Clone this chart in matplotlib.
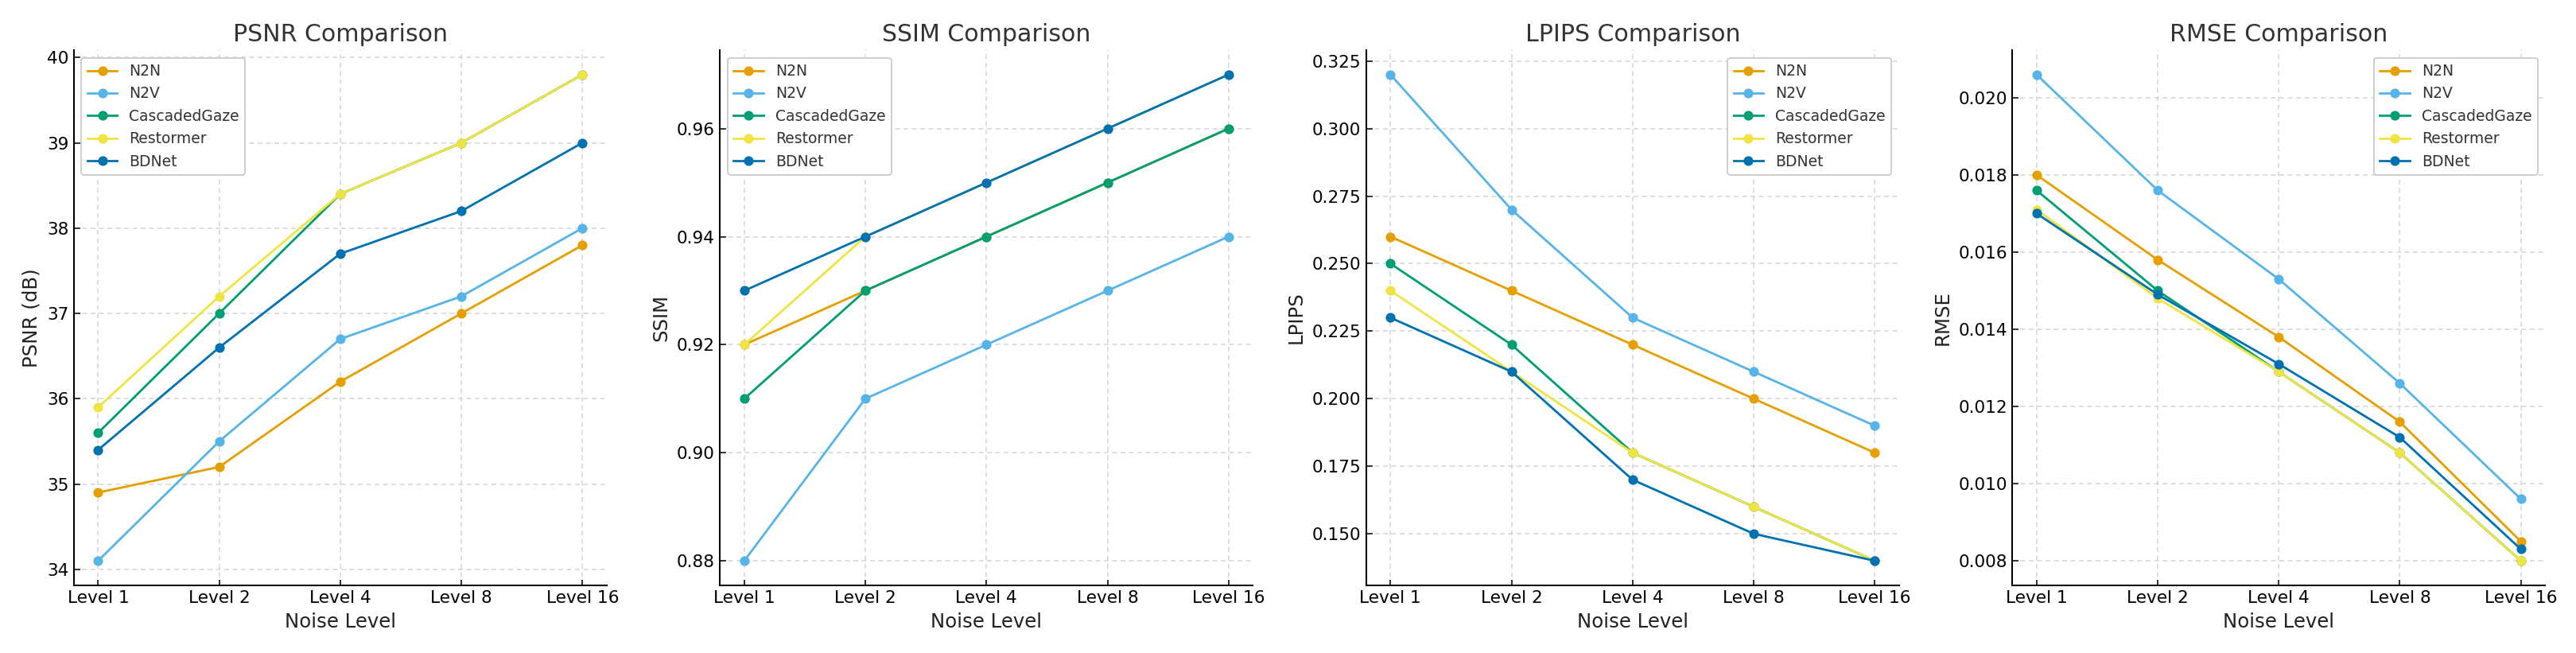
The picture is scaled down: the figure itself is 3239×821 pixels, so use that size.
import numpy as np
import matplotlib
matplotlib.use('Agg')
import matplotlib.pyplot as plt

levels = ['Level 1', 'Level 2', 'Level 4', 'Level 8', 'Level 16']
methods = ['N2N', 'N2V', 'CascadedGaze', 'Restormer', 'BDNet']
colors = ['#E69F00', '#56B4E9', '#009E73', '#F0E442', '#0072B2']

psnr_n2n = [34.9, 35.2, 36.2, 37.0, 37.8]
psnr_n2v = [34.1, 35.5, 36.7, 37.2, 38.0]
psnr_cg = [35.6, 37.0, 38.4, 39.0, 39.8]
psnr_rest = [35.9, 37.2, 38.4, 39.0, 39.8]
psnr_bdnet = [35.4, 36.6, 37.7, 38.2, 39.0]

ssim_n2n = [0.92, 0.93, 0.94, 0.95, 0.96]
ssim_n2v = [0.88, 0.91, 0.92, 0.93, 0.94]
ssim_cg = [0.91, 0.93, 0.94, 0.95, 0.96]
ssim_rest = [0.92, 0.94, 0.95, 0.96, 0.97]
ssim_bdnet = [0.93, 0.94, 0.95, 0.96, 0.97]

lpips_n2n = [0.26, 0.24, 0.22, 0.20, 0.18]
lpips_n2v = [0.32, 0.27, 0.23, 0.21, 0.19]
lpips_cg = [0.25, 0.22, 0.18, 0.16, 0.14]
lpips_rest = [0.24, 0.21, 0.18, 0.16, 0.14]
lpips_bdnet = [0.23, 0.21, 0.17, 0.15, 0.14]

rmse_n2n = [0.0180, 0.0158, 0.0138, 0.0116, 0.0085]
rmse_n2v = [0.0206, 0.0176, 0.0153, 0.0126, 0.0096]
rmse_cg = [0.0176, 0.0150, 0.0129, 0.0108, 0.0080]
rmse_rest = [0.0171, 0.0148, 0.0129, 0.0108, 0.0080]
rmse_bdnet = [0.0170, 0.0149, 0.0131, 0.0112, 0.0083]

panels = [
    ('PSNR Comparison', 'PSNR (dB)', [psnr_n2n, psnr_n2v, psnr_cg, psnr_rest, psnr_bdnet], 'upper left'),
    ('SSIM Comparison', 'SSIM', [ssim_n2n, ssim_n2v, ssim_cg, ssim_rest, ssim_bdnet], 'upper left'),
    ('LPIPS Comparison', 'LPIPS', [lpips_n2n, lpips_n2v, lpips_cg, lpips_rest, lpips_bdnet], 'upper right'),
    ('RMSE Comparison', 'RMSE', [rmse_n2n, rmse_n2v, rmse_cg, rmse_rest, rmse_bdnet], 'upper right'),
]

dpi = 135
fig, axes = plt.subplots(1, 4, figsize=(3239/dpi, 821/dpi), dpi=dpi)
plt.subplots_adjust(left=0.0287, right=0.988, top=0.923, bottom=0.104, wspace=0.213)

x = np.arange(len(levels))
for ax, (title, ylabel, series, loc) in zip(axes, panels):
    for name, vals, c in zip(methods, series, colors):
        ax.plot(x, vals, '-o', color=c, label=name, linewidth=1.5, markersize=5.5)
    ax.set_xticks(x)
    ax.set_xticklabels(levels)
    ax.set_title(title, fontsize=16, color='#333333')
    ax.set_xlabel('Noise Level', fontsize=13, color='#222222')
    ax.set_ylabel(ylabel, fontsize=13, color='#222222')
    ax.tick_params(direction='in', labelsize=11.5, length=4)
    ax.grid(True, linestyle=(0, (4, 3)), color='#d4d4d4', linewidth=0.8)
    for s in ['top', 'right']:
        ax.spines[s].set_visible(False)
    for s in ['left', 'bottom']:
        ax.spines[s].set_linewidth(1.1)
    leg = ax.legend(loc=loc, fontsize=10, frameon=True, framealpha=1.0)
    leg.get_frame().set_edgecolor('#cccccc')
    for t in leg.get_texts():
        t.set_color('#333333')

axes[1].set_yticks([0.88, 0.90, 0.92, 0.94, 0.96])
axes[2].set_yticks([0.150, 0.175, 0.200, 0.225, 0.250, 0.275, 0.300, 0.325])
axes[3].set_yticks([0.008, 0.010, 0.012, 0.014, 0.016, 0.018, 0.020])

plt.savefig('out.png', dpi=dpi)
